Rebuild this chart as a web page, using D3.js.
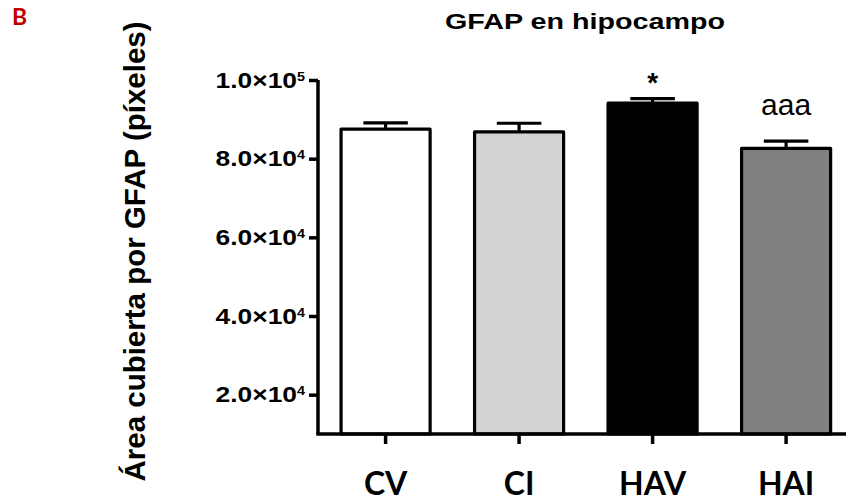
<!DOCTYPE html>
<html>
<head>
<meta charset="utf-8">
<script src="https://cdn.jsdelivr.net/npm/d3@7"></script>
<style>
  body { margin: 0; background: #fff; }
  svg { display: block; }
  .axis path, .axis line { stroke: #000; stroke-width: 3.5; }
</style>
</head>
<body>
<div id="chart"></div>
<script>
// GFAP en hipocampo — bar chart with SEM error bars
const groups = ["CV", "CI", "HAV", "HAI"];
const means = [87500, 86800, 94100, 82600];
const sems = [1600, 2200, 1150, 1850];
const fills = ["#ffffff", "#d3d3d3", "#000000", "#808080"];
const marks = ["", "", "*", "aaa"];
const yTicks = [20000, 40000, 60000, 80000, 100000];
const yTickLabels = [["2.0×10", "4"], ["4.0×10", "4"], ["6.0×10", "4"], ["8.0×10", "4"], ["1.0×10", "5"]];

const W = 846, H = 501;
const axisX = 318, axisY = 434;

const svg = d3.select("#chart").append("svg")
  .attr("width", W).attr("height", H);

const x = d3.scaleBand().domain(groups).range([axisX, W])
  .paddingInner(0.333).paddingOuter(0.144).align(0.6);
const y = d3.scaleLinear().domain([10000, 100000]).range([axisY, 80]);

// panel letter
svg.append("text").attr("x", 12).attr("y", 25)
  .attr("font-family", "Lato, 'Open Sans', sans-serif").attr("font-weight", 700)
  .attr("font-size", 23).attr("fill", "#c00000").text("B");

// title
svg.append("text").attr("x", 445).attr("y", 29)
  .attr("font-family", "'Liberation Sans', Arial, sans-serif").attr("font-weight", 700)
  .attr("font-size", 22).attr("textLength", 280).attr("lengthAdjust", "spacingAndGlyphs")
  .text("GFAP en hipocampo");

// y label
svg.append("text")
  .attr("transform", "translate(145,251.5) rotate(-90)")
  .attr("text-anchor", "middle")
  .attr("font-family", "'Liberation Sans', Arial, sans-serif").attr("font-weight", 700)
  .attr("font-size", 29.5)
  .text("Área cubierta por GFAP (píxeles)");

// bars
svg.append("g").selectAll("rect")
  .data(groups)
  .join("rect")
  .attr("x", d => x(d))
  .attr("y", (d, i) => y(means[i]))
  .attr("width", x.bandwidth())
  .attr("height", (d, i) => axisY - y(means[i]))
  .attr("fill", (d, i) => fills[i])
  .attr("stroke", "#000").attr("stroke-width", 3.2)
  .attr("stroke-linejoin", "round");

// error bars (upper only)
const eb = svg.append("g").attr("stroke", "#000").attr("stroke-width", 3.2);
groups.forEach((g, i) => {
  const cx = x(g) + x.bandwidth() / 2;
  eb.append("line").attr("x1", cx).attr("x2", cx)
    .attr("y1", y(means[i])).attr("y2", y(means[i] + sems[i]));
  eb.append("line")
    .attr("x1", cx - x.bandwidth() / 4).attr("x2", cx + x.bandwidth() / 4)
    .attr("y1", y(means[i] + sems[i])).attr("y2", y(means[i] + sems[i]));
});

// significance marks
svg.append("text").attr("x", x("HAV") + x.bandwidth() / 2).attr("y", 92)
  .attr("text-anchor", "middle")
  .attr("font-family", "'Liberation Sans', Arial, sans-serif").attr("font-weight", 700)
  .attr("font-size", 28).text(marks[2]);
svg.append("text").attr("x", x("HAI") + x.bandwidth() / 2).attr("y", 115)
  .attr("text-anchor", "middle")
  .attr("font-family", "'Liberation Sans', Arial, sans-serif")
  .attr("font-size", 30).text(marks[3]);

// y axis
const yAxis = svg.append("g").attr("class", "axis")
  .attr("transform", `translate(${axisX},0)`)
  .call(d3.axisLeft(y).tickValues(yTicks).tickSize(9).tickSizeOuter(0).tickFormat(""));
yAxis.select(".domain").attr("d", `M0,${y(100000)}V${axisY}`);
yAxis.selectAll(".tick text").remove();
yAxis.selectAll(".tick").each(function(d, i) {
  const t = d3.select(this).append("text")
    .attr("x", -10.8).attr("dy", "0.32em")
    .attr("text-anchor", "end")
    .attr("transform", "scale(1.2,1)")
    .attr("fill", "#000")
    .attr("font-family", "'Liberation Sans', Arial, sans-serif").attr("font-weight", 700)
    .attr("font-size", 22);
  t.append("tspan").text(yTickLabels[i][0]);
  t.append("tspan").attr("font-size", 12).attr("dy", -7).text(yTickLabels[i][1]);
});

// x axis
const xAxis = svg.append("g").attr("class", "axis")
  .attr("transform", `translate(0,${axisY})`)
  .call(d3.axisBottom(x).tickSize(10).tickSizeOuter(0).tickFormat(""));
xAxis.select(".domain").attr("d", `M${axisX - 1.75},0H${W}`);
xAxis.selectAll(".tick text").remove();
xAxis.selectAll(".tick").append("text")
  .attr("y", 61).attr("text-anchor", "middle").attr("fill", "#000")
  .attr("font-family", "Lato, 'Open Sans', sans-serif").attr("font-weight", 700)
  .attr("font-size", 32)
  .text(d => d);
</script>
</body>
</html>
